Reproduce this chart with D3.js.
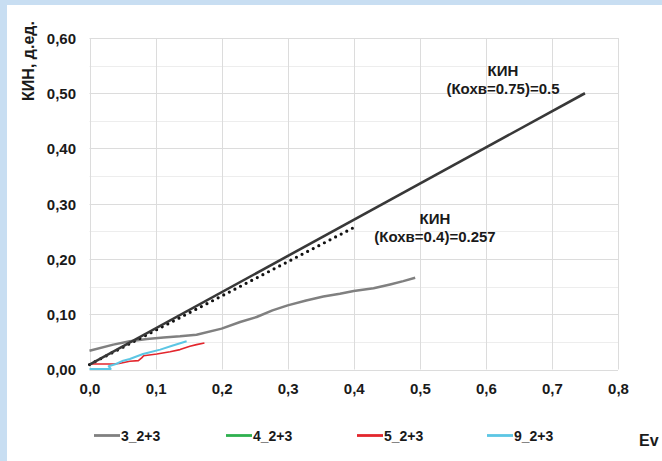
<!DOCTYPE html>
<html><head><meta charset="utf-8">
<script src="https://cdn.jsdelivr.net/npm/d3@7"></script>
<style>
html,body{margin:0;padding:0;background:#c8def2;}
svg{display:block;}
text{font-family:"Liberation Sans",Arial,sans-serif;font-weight:bold;fill:#1a1a1a;}
</style></head>
<body>
<svg id="c" width="662" height="461"></svg>
<script>
// ---- data ----
const xTicks = [0,0.1,0.2,0.3,0.4,0.5,0.6,0.7,0.8];
const xTickLabels = ["0,0","0,1","0,2","0,3","0,4","0,5","0,6","0,7","0,8"];
const yTicks = [0,0.1,0.2,0.3,0.4,0.5,0.6];
const yTickLabels = ["0,00","0,10","0,20","0,30","0,40","0,50","0,60"];
const yMinor = [0.05,0.15,0.25,0.35,0.45,0.55];

const kin075 = [[0,0.009],[0.75,0.5]];
const kin04 = [[0,0.009],[0.4,0.257]];

const s3 = [[0,0.034],[0.036,0.045],[0.061,0.051],[0.087,0.055],[0.112,0.058],[0.137,0.060],[0.162,0.063],[0.2,0.074],[0.228,0.086],[0.253,0.095],[0.277,0.107],[0.3,0.116],[0.328,0.125],[0.354,0.132],[0.379,0.137],[0.4,0.142],[0.43,0.147],[0.455,0.154],[0.475,0.160],[0.493,0.166]];
const s4 = [];
const s5 = [[0,0.010],[0.016,0.010],[0.036,0.010],[0.045,0.011],[0.061,0.015],[0.074,0.016],[0.079,0.021],[0.082,0.025],[0.102,0.028],[0.122,0.032],[0.137,0.036],[0.152,0.042],[0.162,0.045],[0.174,0.048]];
const s9 = [[0,0.001],[0.032,0.001],[0.029,0.006],[0.04,0.010],[0.051,0.016],[0.061,0.019],[0.081,0.028],[0.087,0.030],[0.107,0.036],[0.125,0.043],[0.147,0.051]];

const seriesNames = ["3_2+3","4_2+3","5_2+3","9_2+3"];
const seriesData = [s3,s4,s5,s9];
const seriesColors = ["#808080","#2eb04f","#e3262d","#5cc6e4"];
const seriesWidths = [2.5,2,1.6,2];

const ann1 = ["КИН","(Кохв=0.75)=0.5"];
const ann2 = ["КИН","(Кохв=0.4)=0.257"];

// ---- chart ----
const svg = d3.select("#c");
svg.append("rect").attr("x",7).attr("y",5).attr("width",655).attr("height",456).attr("fill","#fff");

const x = d3.scaleLinear().domain([0,0.8]).range([89.5,618]);
const y = d3.scaleLinear().domain([0,0.6]).range([369.5,38]);

const g = svg.append("g");
g.selectAll(".ym").data(yMinor).join("line")
  .attr("x1",x(0)).attr("x2",x(0.8)).attr("y1",d=>Math.round(y(d))+0.5).attr("y2",d=>Math.round(y(d))+0.5)
  .attr("stroke","#ededed").attr("stroke-width",1);
g.selectAll(".yg").data(yTicks).join("line")
  .attr("x1",x(0)).attr("x2",x(0.8)).attr("y1",d=>Math.round(y(d))+0.5).attr("y2",d=>Math.round(y(d))+0.5)
  .attr("stroke","#dcdcdc").attr("stroke-width",1);
g.selectAll(".xg").data(xTicks).join("line")
  .attr("y1",y(0)).attr("y2",y(0.6)).attr("x1",d=>Math.round(x(d))+0.5).attr("x2",d=>Math.round(x(d))+0.5)
  .attr("stroke","#dcdcdc").attr("stroke-width",1);

const xAxis = d3.axisBottom(x).tickValues(xTicks).tickFormat((d,i)=>xTickLabels[i]).tickSize(0).tickPadding(0);
const xa = svg.append("g").attr("transform","translate(0,394)").call(xAxis);
xa.select(".domain").remove();
xa.selectAll("text").attr("dy",0).attr("y",0).style("font-size","15px").style("font-family","'Liberation Sans',Arial,sans-serif").style("font-weight","bold").attr("fill","#1a1a1a");

const yAxis = d3.axisLeft(y).tickValues(yTicks).tickFormat((d,i)=>yTickLabels[i]).tickSize(0).tickPadding(0);
const ya = svg.append("g").attr("transform","translate(76,0)").call(yAxis);
ya.select(".domain").remove();
ya.selectAll("text").attr("dy","0.36em").style("font-size","15px").style("font-family","'Liberation Sans',Arial,sans-serif").style("font-weight","bold").attr("fill","#1a1a1a");

svg.append("text").attr("transform","translate(34,61) rotate(-90)").attr("text-anchor","middle")
  .style("font-size","16px").text("КИН, д.ед.");
svg.append("text").attr("x",639).attr("y",446).style("font-size","16px").text("Ev");

const line = d3.line().x(d=>x(d[0])).y(d=>y(d[1]));

seriesData.forEach((s,i)=>{
  if(!s.length) return;
  svg.append("path").datum(s).attr("d",line).attr("fill","none")
    .attr("stroke",seriesColors[i]).attr("stroke-width",seriesWidths[i]).attr("stroke-linejoin","round");
});

svg.append("path").datum(kin04).attr("d",line).attr("fill","none")
  .attr("stroke","#111").attr("stroke-width",3.2).attr("stroke-linecap","round").attr("stroke-dasharray","0,6.3");
svg.append("path").datum(kin075).attr("d",line).attr("fill","none")
  .attr("stroke","#383838").attr("stroke-width",2.6);

function ann(lines, cx, y0){
  lines.forEach((t,i)=>svg.append("text").attr("x",cx).attr("y",y0+i*18).attr("text-anchor","middle").style("font-size","15px").text(t));
}
ann(ann1, 503, 76);
ann(ann2, 435, 224);

const legX = [94,226,357,487];
seriesNames.forEach((n,i)=>{
  svg.append("line").attr("x1",legX[i]).attr("x2",legX[i]+26).attr("y1",435.5).attr("y2",435.5)
    .attr("stroke",seriesColors[i]).attr("stroke-width",2.8);
  svg.append("text").attr("x",legX[i]+27).attr("y",441).style("font-size",  "14px").text(n);
});
</script>
</body></html>
